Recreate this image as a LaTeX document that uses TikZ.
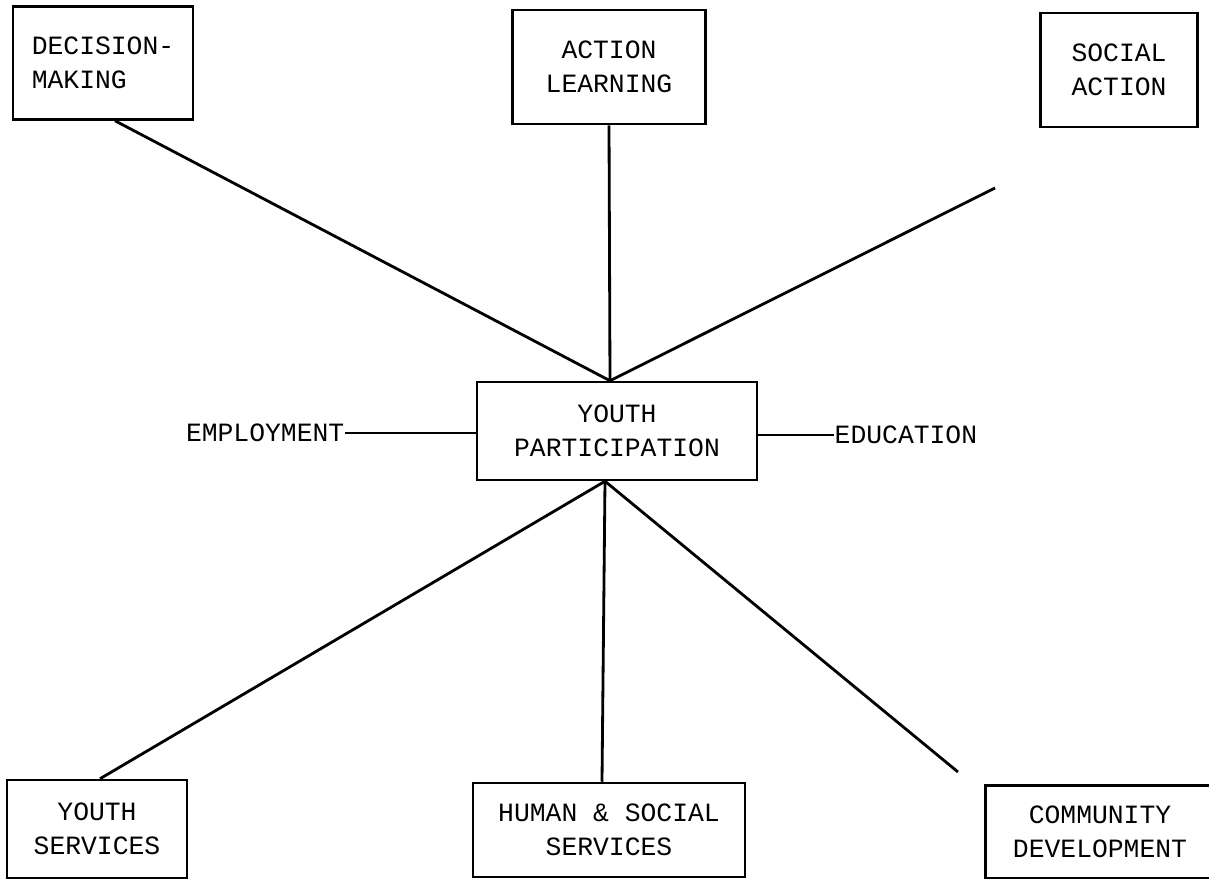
\documentclass[tikz,border=0pt]{standalone}
\usepackage{fontspec}
\setmonofont{Liberation Mono}
\begin{document}
\begin{tikzpicture}[x=0.01cm,y=-0.01cm,
    topicbox/.style={draw,line width=0.7pt,align=center,inner sep=0pt,
        font=\ttfamily\fontsize{7.5}{9.6}\selectfont},
    sidetext/.style={inner sep=0pt,font=\ttfamily\fontsize{7.5}{9.6}\selectfont},
    spoke/.style={line width=0.8pt}]
                \clip (0,0) rectangle (1209,879);
                \fill[white] (0,0) rectangle (1209,879);
                % boxes along the top
                \node[topicbox,align=left,minimum width=1.80cm,minimum height=1.13cm] (dec) at (103,63) {DECISION-\\MAKING};
                \node[topicbox,minimum width=1.93cm,minimum height=1.14cm] (act) at (609,67) {ACTION\\LEARNING};
                \node[topicbox,minimum width=1.57cm,minimum height=1.14cm] (soc) at (1119,70) {SOCIAL\\ACTION};
                % centre
                \node[topicbox,minimum width=2.80cm,minimum height=0.98cm] (yp) at (617,431) {YOUTH\\PARTICIPATION};
                \node[sidetext,anchor=east] (emp) at (345,433) {EMPLOYMENT};
                \node[sidetext,anchor=west] (edu) at (834,435) {EDUCATION};
                % boxes along the bottom
                \node[topicbox,minimum width=1.80cm,minimum height=0.98cm] (ys) at (97,829) {YOUTH\\SERVICES};
                \node[topicbox,minimum width=2.72cm,minimum height=0.94cm] (hss) at (609,830) {HUMAN \& SOCIAL\\SERVICES};
                \node[topicbox,minimum width=2.29cm,minimum height=0.93cm] (cd) at (1100,832) {COMMUNITY\\DEVELOPMENT};
                \coordinate (socend) at (995,188);
                \coordinate (cdend) at (958,772);
                % spokes
                \draw[spoke] ([xshift=0.12cm]dec.south) -- ([xshift=-0.07cm]yp.north);
                \draw[spoke] (act.south) -- ([xshift=-0.07cm]yp.north);
                \draw[spoke] (socend) -- ([xshift=-0.07cm]yp.north);
                \draw[spoke] (emp.east) -- (yp.west |- emp.east);
                \draw[spoke] (yp.east |- edu.west) -- (edu.west);
                \draw[spoke] ([xshift=-0.12cm]yp.south) -- ([xshift=0.03cm]ys.north);
                \draw[spoke] ([xshift=-0.12cm]yp.south) -- ([xshift=-0.07cm]hss.north);
                \draw[spoke] ([xshift=-0.12cm]yp.south) -- (cdend);
\end{tikzpicture}
\end{document}
